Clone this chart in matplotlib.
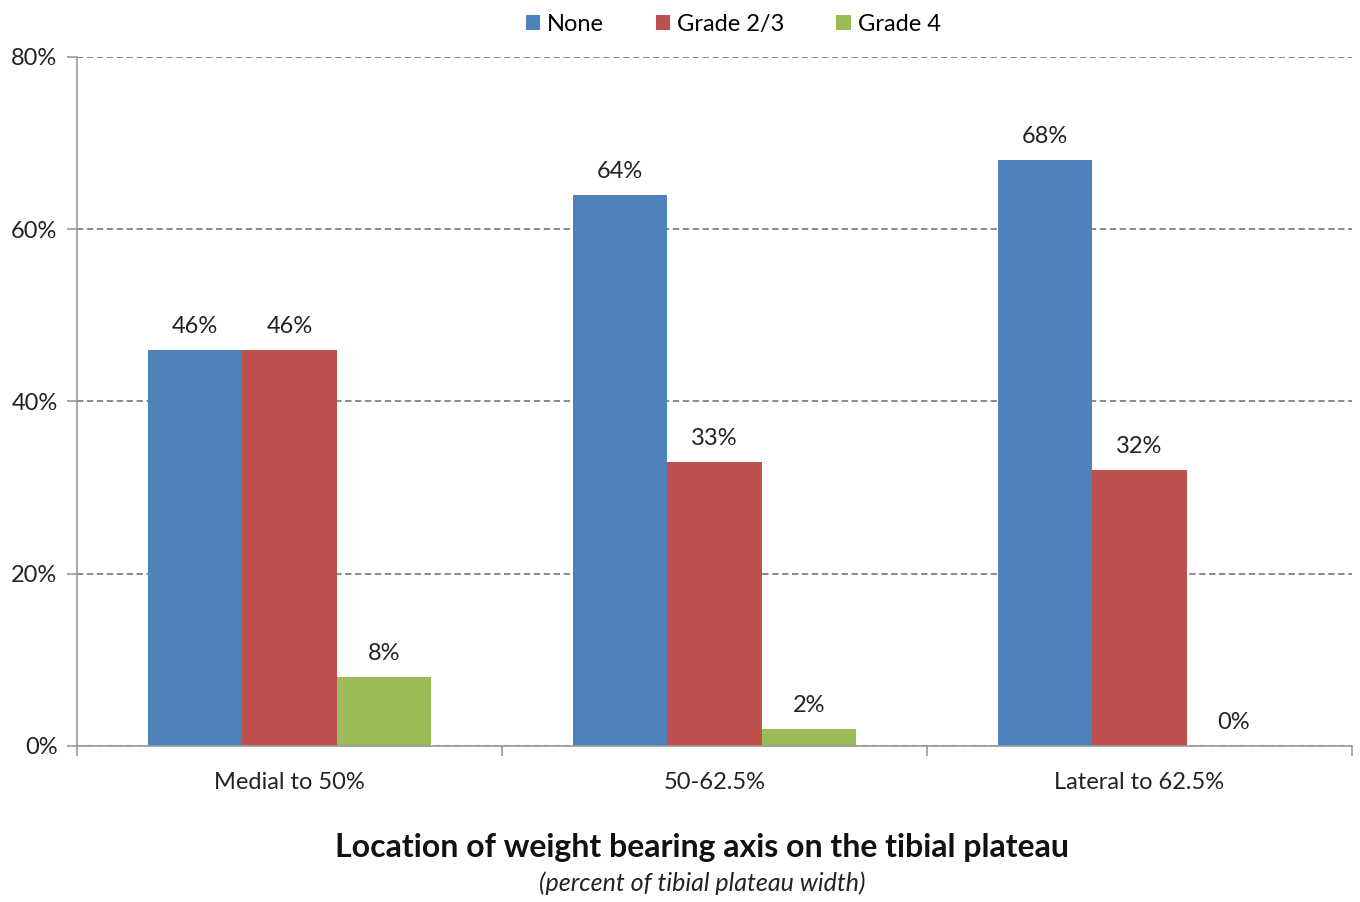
import matplotlib
matplotlib.use("Agg")
import matplotlib.pyplot as plt
import numpy as np

plt.rcParams['font.family'] = ['Lato', 'DejaVu Sans']

categories = ["Medial to 50%", "50-62.5%", "Lateral to 62.5%"]
series_names = ["None", "Grade 2/3", "Grade 4"]
none_vals = [46, 64, 68]
grade23_vals = [46, 33, 32]
grade4_vals = [8, 2, 0]
colors = ["#4F81BD", "#C0504D", "#9BBB59"]
yticks = [0, 20, 40, 60, 80]

fig = plt.figure(figsize=(13.6, 9.02), dpi=100)
ax = fig.add_axes([77/1360, 1-746/902, (1352-77)/1360, (746-57)/902])

x = np.arange(len(categories))
w = 0.222
for i, (vals, name, c) in enumerate(zip([none_vals, grade23_vals, grade4_vals], series_names, colors)):
    pos = x + (i-1)*w
    ax.bar(pos, vals, width=w, color=c, label=name, zorder=3)
    for p, v in zip(pos, vals):
        ax.text(p, v + 1.5, f"{v}%", ha='center', va='bottom', fontsize=17, color='#222222', zorder=4)

ax.set_xlim(-0.5, 2.5)
ax.set_ylim(0, 80)
ax.set_yticks(yticks)
ax.set_yticklabels([f"{t}%" for t in yticks], fontsize=17, color='#222222')
ax.yaxis.grid(True, linestyle=(0, (3.5, 2)), color='#808080', linewidth=1.3, zorder=0)
ax.set_xticks(x)
ax.set_xticklabels(categories, fontsize=17, color='#222222')
ax.tick_params(axis='x', which='major', length=0, pad=19)
ax.set_xticks([-0.5, 0.5, 1.5, 2.5], minor=True)
ax.tick_params(axis='x', which='minor', length=7, color='#999999', width=1.2)
ax.tick_params(axis='y', length=7, color='#999999', width=1.2, pad=7)
for s in ['top', 'right']:
    ax.spines[s].set_visible(False)
for s in ['left', 'bottom']:
    ax.spines[s].set_color('#999999')
    ax.spines[s].set_linewidth(1.2)
    ax.spines[s].set_zorder(5)

leg = fig.legend(loc='upper center', bbox_to_anchor=(0.539, 1.008), ncol=3, frameon=False,
                 fontsize=17, handlelength=0.6, handleheight=0.6, handletextpad=0.3, columnspacing=2.2)

fig.text(702/1360, 1-847/902, "Location of weight bearing axis on the tibial plateau",
         ha='center', va='center', fontsize=23, fontweight='bold', color='#111111')
fig.text(702/1360, 1-883/902, "(percent of tibial plateau width)",
         ha='center', va='center', fontsize=18, fontstyle='italic', color='#222222')

fig.savefig("out.png", dpi=100)
